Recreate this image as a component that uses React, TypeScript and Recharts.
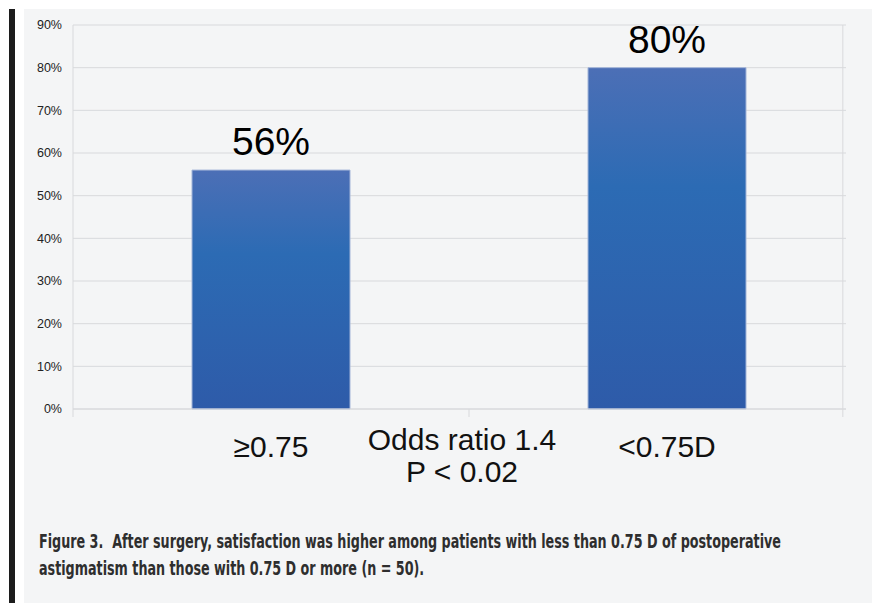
import React, { useLayoutEffect, useRef, useState } from 'react';
import { BarChart, Bar, XAxis, YAxis, CartesianGrid, ReferenceLine, LabelList } from 'recharts';

const categories = ['≥0.75', '<0.75D'];
const satisfaction = [56, 80];
const middleLabel = ['Odds ratio 1.4', 'P < 0.02'];
const yTicks = [0, 10, 20, 30, 40, 50, 60, 70, 80, 90];
const captionLines = [
  'Figure 3.  After surgery, satisfaction was higher among patients with less than 0.75 D of postoperative',
  'astigmatism than those with 0.75 D or more (n = 50).',
];

const data = categories.map((name, i) => ({ pos: i + 0.5, name, value: satisfaction[i] }));

const X_MAX = 1.952;
const RIGHT_EDGE = 1.944;
const xTicks = [0, 0.5, 1, 1.5, RIGHT_EDGE];

const GRID = '#d8d9dc';
const FONT = "'Liberation Sans', Arial, Helvetica, sans-serif";
const CAPTION_FONT = "'Liberation Sans Narrow', 'DejaVu Sans Condensed', sans-serif";

const near = (a: number, b: number) => Math.abs(a - b) < 1e-6;

const XTick = (props: any) => {
  const { x, y, payload } = props;
  const v = payload.value;
  if (near(v, 0) || near(v, RIGHT_EDGE)) {
    return <line x1={x} x2={x} y1={y} y2={y + 8} stroke={GRID} strokeWidth={1} />;
  }
  if (near(v, 1)) {
    return (
      <g>
        <line x1={x} x2={x} y1={y} y2={y + 8} stroke={GRID} strokeWidth={1} />
        <text x={x - 7} y={y + 41} textAnchor="middle" fontSize={30} fontFamily={FONT} fill="#111">
          {middleLabel[0]}
        </text>
        <text x={x - 7} y={y + 73} textAnchor="middle" fontSize={30} fontFamily={FONT} fill="#111">
          {middleLabel[1]}
        </text>
      </g>
    );
  }
  const idx = near(v, 0.5) ? 0 : 1;
  return (
    <text x={x} y={y + 48} textAnchor="middle" fontSize={30} fontFamily={FONT} fill="#111">
      {categories[idx]}
    </text>
  );
};

const ValueLabel = (props: any) => {
  const { x, y, width, value } = props;
  return (
    <text x={x + width / 2} y={y - 15} textAnchor="middle" fontSize={39} fontFamily={FONT} fill="#000">
      {`${value}%`}
    </text>
  );
};

const FitLine = ({ text, left, top, width }: { text: string; left: number; top: number; width: number }) => {
  const ref = useRef<HTMLSpanElement>(null);
  const [scale, setScale] = useState(1);
  useLayoutEffect(() => {
    if (ref.current) {
      const w = ref.current.offsetWidth;
      if (w > 0) setScale(width / w);
    }
  }, [text, width]);
  return (
    <span
      ref={ref}
      style={{
        position: 'absolute',
        left,
        top,
        whiteSpace: 'pre',
        fontFamily: CAPTION_FONT,
        fontWeight: 'bold',
        fontSize: 19,
        lineHeight: '19px',
        color: '#2e2e2e',
        transform: `scaleX(${scale})`,
        transformOrigin: '0 0',
      }}
    >
      {text}
    </span>
  );
};

export default function App() {
  return (
    <div style={{ position: 'absolute', left: 0, top: 0, width: 872, height: 603, background: '#ffffff', overflow: 'hidden' }}>
      <div style={{ position: 'absolute', left: 24, top: 9, right: 0, bottom: 0, background: '#f4f5f6' }} />
      <div style={{ position: 'absolute', left: 9, top: 9, width: 6, bottom: 0, background: '#1c1c1c' }} />
      <svg width={0} height={0} style={{ position: 'absolute' }}>
        <defs>
          <linearGradient id="barGrad" x1="0" y1="0" x2="0" y2="1">
            <stop offset="0%" stopColor="#4c6fb6" />
            <stop offset="35%" stopColor="#2c6bb4" />
            <stop offset="100%" stopColor="#2e5ba9" />
          </linearGradient>
        </defs>
      </svg>
      <div style={{ position: 'absolute', left: 0, top: 0 }}>
        <BarChart
          width={872}
          height={603}
          data={data}
          margin={{ top: 25, right: 26, bottom: 94, left: 13 }}
        >
          <CartesianGrid horizontal vertical={false} stroke={GRID} strokeWidth={1} />
          <XAxis
            dataKey="pos"
            type="number"
            domain={[0, X_MAX]}
            ticks={xTicks}
            interval={0}
            tick={<XTick />}
            tickLine={false}
            tickSize={0}
            tickMargin={0}
            axisLine={{ stroke: GRID }}
            height={100}
          />
          <YAxis
            domain={[0, 90]}
            ticks={yTicks}
            interval={0}
            tickFormatter={(v: number) => `${v}%`}
            tick={{ fontSize: 12.5, fontFamily: FONT, fill: '#222' }}
            tickLine={false}
            axisLine={false}
            tickSize={6}
            tickMargin={5}
            width={60}
          />
          <ReferenceLine x={0} stroke={GRID} strokeWidth={1} />
          <ReferenceLine x={RIGHT_EDGE} stroke={GRID} strokeWidth={1} />
          <Bar
            dataKey="value"
            fill="url(#barGrad)"
            stroke="#a3b5d8"
            strokeWidth={1}
            barSize={158}
            isAnimationActive={false}
          >
            <LabelList dataKey="value" content={<ValueLabel />} />
          </Bar>
        </BarChart>
      </div>
      <FitLine text={captionLines[0]} left={39} top={532} width={742} />
      <FitLine text={captionLines[1]} left={39} top={559} width={385} />
    </div>
  );
}
